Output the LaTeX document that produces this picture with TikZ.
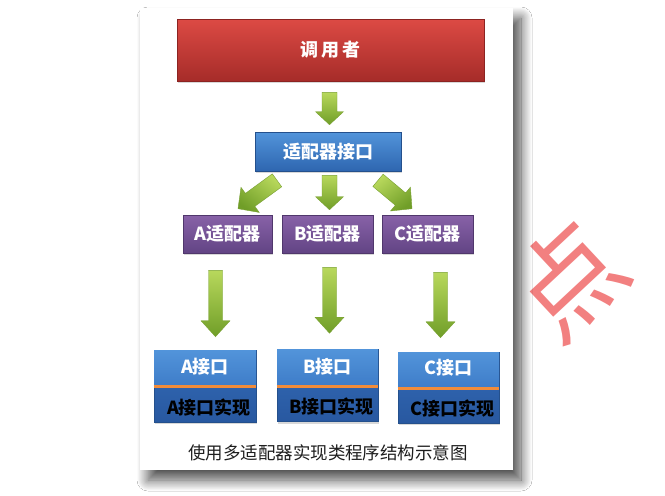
\documentclass[tikz,border=0pt]{standalone}
\usepackage{fontspec}
\newfontfamily\cjk{Noto Sans CJK SC}
\usetikzlibrary{shadows,shadows.blur,calc}
\definecolor{redT}{RGB}{220,74,68}
\definecolor{redB}{RGB}{166,44,41}
\definecolor{redD}{RGB}{140,35,33}
\definecolor{bluT}{RGB}{82,148,218}
\definecolor{bluB}{RGB}{46,102,176}
\definecolor{bluD}{RGB}{36,80,140}
\definecolor{purT}{RGB}{136,98,168}
\definecolor{purB}{RGB}{98,68,132}
\definecolor{purD}{RGB}{80,55,108}
\definecolor{lowT}{RGB}{52,108,184}
\definecolor{lowB}{RGB}{40,88,160}
\definecolor{orn}{RGB}{242,140,58}
\definecolor{grnL}{RGB}{184,216,92}
\definecolor{grnD}{RGB}{112,158,40}
\definecolor{grnE}{RGB}{120,160,50}
\definecolor{wmk}{RGB}{242,128,128}
\definecolor{capc}{RGB}{30,30,30}
\tikzset{
  card/.style={fill=white, draw=none, inner sep=0pt,
    blur shadow={shadow xshift=8pt, shadow yshift=-10pt, shadow blur radius=11pt, shadow blur steps=16, shadow opacity=70}},
  bx/.style={inner sep=0pt, text=white, font=\cjk\bfseries\fontsize{18pt}{20pt}\selectfont,
    drop shadow={shadow xshift=1pt, shadow yshift=-2pt, opacity=0.3}},
  redbox/.style={bx, top color=redT, bottom color=redB, draw=redD, line width=0.6pt},
  blubox/.style={bx, top color=bluT, bottom color=bluB, draw=bluD, line width=0.6pt},
  purbox/.style={bx, top color=purT, bottom color=purB, draw=purD, line width=0.6pt},
  ifbox/.style={bx, top color=lowT, bottom color=lowB, draw=bluD, line width=0.6pt,
    minimum height=72pt},
  uppershade/.style={top color=bluT, bottom color={rgb,255:red,62;green,124;blue,200}},
  splitline/.style={draw=orn, line width=2.6pt},
  toptext/.style={inner sep=0pt, text=white, font=\cjk\bfseries\fontsize{18pt}{20pt}\selectfont},
  bottext/.style={inner sep=0pt, text=black, font=\cjk\bfseries\fontsize{18pt}{20pt}\selectfont},
  arrowshade/.style={top color=grnL, bottom color=grnD, draw=grnE, line width=0.4pt},
}
\newcommand\fatarr[6]{% start, end, half shaft, half head, head length, shading angle
  \coordinate (fa-h) at ($(#2)!#5!(#1)$);
  \shade[arrowshade, shading angle=#6]
    ($(#1)!#3!90:(#2)$) -- ($(fa-h)!#3!90:(#2)$) -- ($(fa-h)!#4!90:(#2)$) -- (#2)
    -- ($(fa-h)!#4!-90:(#2)$) -- ($(fa-h)!#3!-90:(#2)$) -- ($(#1)!#3!-90:(#2)$) -- cycle;
}
\begin{document}
\begin{tikzpicture}[x=1pt,y=-1pt]
\useasboundingbox (0,0) rectangle (665,496);
\fill[white] (0,0) rectangle (665,496);
% watermark
\node[rotate=43, text=wmk, inner sep=0pt, font=\cjk\fontsize{108pt}{108pt}\selectfont] (wm) at (568,280) {点};
% card
\node[card, minimum width=373pt, minimum height=462pt] (card) at (326.5,239) {};
% boxes
\node[redbox, minimum width=307pt, minimum height=62pt] (caller) at (330.5,50) {调\hspace{3pt}用\hspace{3pt}者};
\node[blubox, minimum width=146pt, minimum height=39pt] (iface) at (328,151.5) {适配器接口};
\node[purbox, minimum width=89pt, minimum height=38pt] (adA) at (227.5,234) {A适配器};
\node[purbox, minimum width=91pt, minimum height=38pt] (adB) at (327.5,234) {B适配器};
\node[purbox, minimum width=91pt, minimum height=38pt] (adC) at (427.5,234) {C适配器};
% interface boxes
\node[ifbox, minimum width=102pt] (ifA) at (205,386) {};
\node[ifbox, minimum width=101pt] (ifB) at (327.5,385.5) {};
\node[ifbox, minimum width=101pt, minimum height=71pt] (ifC) at (448.5,387.5) {};
\foreach \n in {ifA,ifB,ifC}{
  \shade[uppershade] ($(\n.north west)+(0.3,0.3)$) rectangle ($(\n.north east)+(-0.3,37)$);
  \draw[splitline] ($(\n.north west)+(0,37)$) -- ($(\n.north east)+(0,37)$);
}
\node[toptext] (ifAt) at ($(ifA.north)+(0,17)$) {A接口};
\node[toptext] (ifBt) at ($(ifB.north)+(0,17)$) {B接口};
\node[toptext] (ifCt) at ($(ifC.north)+(0,16)$) {C接口};
\node[bottext] (ifAb) at ($(ifA.south)+(4,-15)$) {A接口实现};
\node[bottext] (ifBb) at ($(ifB.south)+(4,-15)$) {B接口实现};
\node[bottext] (ifCb) at ($(ifC.south)+(4,-15)$) {C接口实现};
% caption
\node[inner sep=0pt, text=capc, font=\cjk\fontsize{17.5pt}{20pt}\selectfont] (capt) at (328,453) {使用多适配器实现类程序结构示意图};
% arrows
\coordinate (a1s) at ($(caller.south)+(-1,11)$);
\coordinate (a1e) at ($(iface.north)+(1.5,-7)$);
\fatarr{a1s}{a1e}{7.5pt}{14pt}{13pt}{0}
\coordinate (a2s) at ($(iface.south)+(-51,9)$);
\coordinate (a2e) at ($(adA.north)+(10.5,-6)$);
\fatarr{a2s}{a2e}{8pt}{15.5pt}{15pt}{-37}
\coordinate (a3s) at ($(iface.south)+(1.5,4)$);
\coordinate (a3e) at ($(adB.north)+(2,-5)$);
\fatarr{a3s}{a3e}{7.5pt}{14pt}{13pt}{0}
\coordinate (a4s) at ($(iface.south)+(50,9)$);
\coordinate (a4e) at ($(adC.north)+(-15.5,-6)$);
\fatarr{a4s}{a4e}{8pt}{15.5pt}{15pt}{37}
\coordinate (a5s) at ($(adA.south)+(-12,17)$);
\coordinate (a5e) at ($(ifA.north)+(10.5,-13)$);
\fatarr{a5s}{a5e}{7pt}{14.5pt}{16pt}{0}
\coordinate (a6s) at ($(adB.south)+(2,14)$);
\coordinate (a6e) at ($(ifB.north)+(2,-16)$);
\fatarr{a6s}{a6e}{7pt}{14.5pt}{16pt}{0}
\coordinate (a7s) at ($(adC.south)+(13,19)$);
\coordinate (a7e) at ($(ifC.north)+(-8,-14)$);
\fatarr{a7s}{a7e}{7pt}{14.5pt}{16pt}{0}
\end{tikzpicture}
\end{document}
